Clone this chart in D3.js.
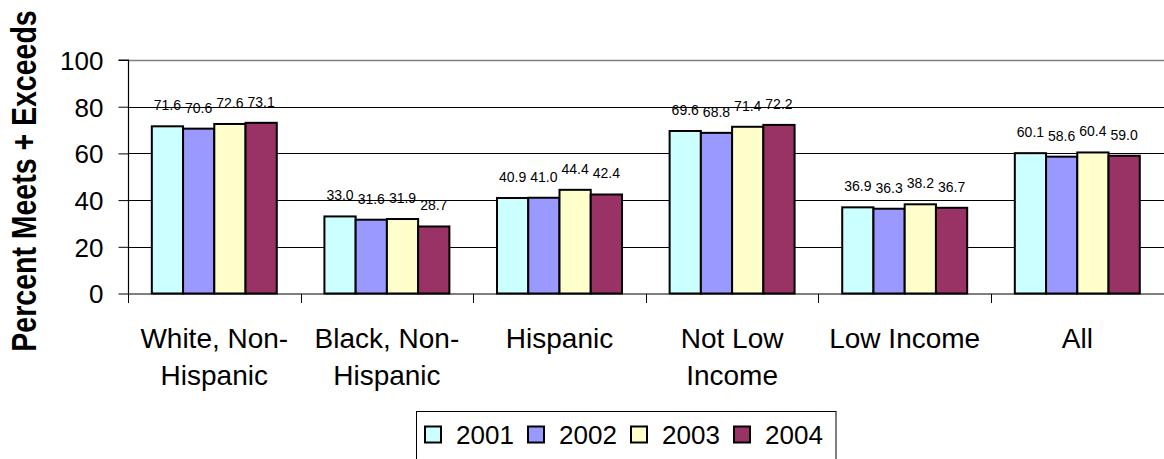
<!DOCTYPE html>
<html>
<head>
<meta charset="utf-8">
<script src="https://cdn.jsdelivr.net/npm/d3@7"></script>
<style>
  html, body { margin: 0; padding: 0; background: #fff; }
  svg { display: block; font-family: "Liberation Sans", Arial, sans-serif; }
</style>
</head>
<body>
<svg id="chart" width="1164" height="459"></svg>
<script>
const categories = ["White, Non-\nHispanic", "Black, Non-\nHispanic", "Hispanic", "Not Low\nIncome", "Low Income", "All"];
const years = ["2001", "2002", "2003", "2004"];
const v2001 = [71.6, 33.0, 40.9, 69.6, 36.9, 60.1];
const v2002 = [70.6, 31.6, 41.0, 68.8, 36.3, 58.6];
const v2003 = [72.6, 31.9, 44.4, 71.4, 38.2, 60.4];
const v2004 = [73.1, 28.7, 42.4, 72.2, 36.7, 59.0];
const yTicks = [0, 20, 40, 60, 80, 100];
const colors = ["#CCFFFF", "#9999FF", "#FFFFCC", "#993366"];
const yTitle = "Percent Meets + Exceeds";

(function () {
const series = [v2001, v2002, v2003, v2004];
const svg = d3.select("#chart");

const pL = 128, pR = 1163.6, pT = 60, pB = 293.5;
const y = d3.scaleLinear().domain([0, 100]).range([pB, pT]);
const x0 = d3.scaleBand().domain(categories).range([pL, pR]).padding(0);
const bw = x0.bandwidth();
const gap = bw * 0.138;
const x1 = d3.scaleBand().domain(years).range([gap, bw - gap]).padding(0);

// gridlines
svg.append("g").selectAll("line").data(yTicks.filter(t => t > 0)).join("line")
  .attr("x1", pL).attr("x2", 1164)
  .attr("y1", d => Math.round(y(d)) + 0.5).attr("y2", d => Math.round(y(d)) + 0.5)
  .attr("stroke", d => d === 100 ? "#808080" : "#000")
  .attr("stroke-width", d => d === 100 ? 1.5 : 1);

// bars
const g = svg.append("g");
categories.forEach((c, ci) => {
  years.forEach((yr, si) => {
    const val = series[si][ci];
    g.append("rect")
      .attr("x", x0(c) + x1(yr))
      .attr("y", y(val))
      .attr("width", x1.bandwidth())
      .attr("height", y(0) - y(val))
      .attr("fill", colors[si])
      .attr("stroke", "#000")
      .attr("stroke-width", 2);
    g.append("text")
      .attr("x", x0(c) + x1(yr) + x1.bandwidth() / 2)
      .attr("y", y(val) - 16)
      .attr("text-anchor", "middle")
      .attr("font-size", 14)
      .attr("fill", "#000")
      .text(val.toFixed(1));
  });
});

// y axis
const yAxis = d3.axisLeft(y).tickValues(yTicks).tickSize(10).tickPadding(15).tickFormat(d3.format("d"));
const ya = svg.append("g").attr("transform", `translate(${pL + 0.5},0)`).call(yAxis);
ya.select(".domain").attr("stroke", "#000").attr("stroke-width", 1.2).attr("d", `M-10,${y(100)}H0V${y(0)}`);
ya.selectAll(".tick line").attr("stroke", "#000");
ya.selectAll(".tick text").attr("font-size", 26).attr("fill", "#000")
  .attr("font-family", "Liberation Sans, Arial, sans-serif").attr("dy", "0.36em");

// x axis
const xa = svg.append("g").attr("transform", `translate(0,${pB + 0.5})`);
xa.append("line").attr("x1", pL).attr("x2", 1164).attr("y1", 0).attr("y2", 0).attr("stroke", "#000").attr("stroke-width", 1.2);
const bounds = categories.map(c => x0(c)).concat([pR]);
xa.selectAll("line.tk").data(bounds).join("line").attr("class", "tk")
  .attr("x1", d => Math.round(d) + 0.5).attr("x2", d => Math.round(d) + 0.5)
  .attr("y1", 0).attr("y2", 9).attr("stroke", "#000");
categories.forEach(c => {
  const lines = c.split("\n");
  const t = svg.append("text")
    .attr("text-anchor", "middle")
    .attr("font-size", 28)
    .attr("fill", "#000");
  lines.forEach((ln, i) => {
    t.append("tspan").attr("x", x0(c) + bw / 2).attr("y", 348 + i * 37).text(ln);
  });
});

// y title
svg.append("text")
  .attr("transform", "translate(36,181) rotate(-90) scale(1,1.2)")
  .attr("text-anchor", "middle")
  .attr("font-size", 28.5)
  .attr("font-weight", "bold")
  .attr("fill", "#000")
  .text(yTitle);

// legend
const lg = svg.append("g");
lg.append("rect").attr("x", 416.5).attr("y", 411.5).attr("width", 419.5).attr("height", 60)
  .attr("fill", "#fff").attr("stroke", "#000").attr("stroke-width", 1);
const lx = d3.scaleLinear().domain([0, 1]).range([425, 528]);
years.forEach((yr, i) => {
  lg.append("rect").attr("x", lx(i)).attr("y", 426.5).attr("width", 16).attr("height", 16)
    .attr("fill", colors[i]).attr("stroke", "#000").attr("stroke-width", 2);
  lg.append("text").attr("x", lx(i) + 31).attr("y", 443.5)
    .attr("font-size", 26).attr("fill", "#000").text(yr);
});
})();
</script>
</body>
</html>
